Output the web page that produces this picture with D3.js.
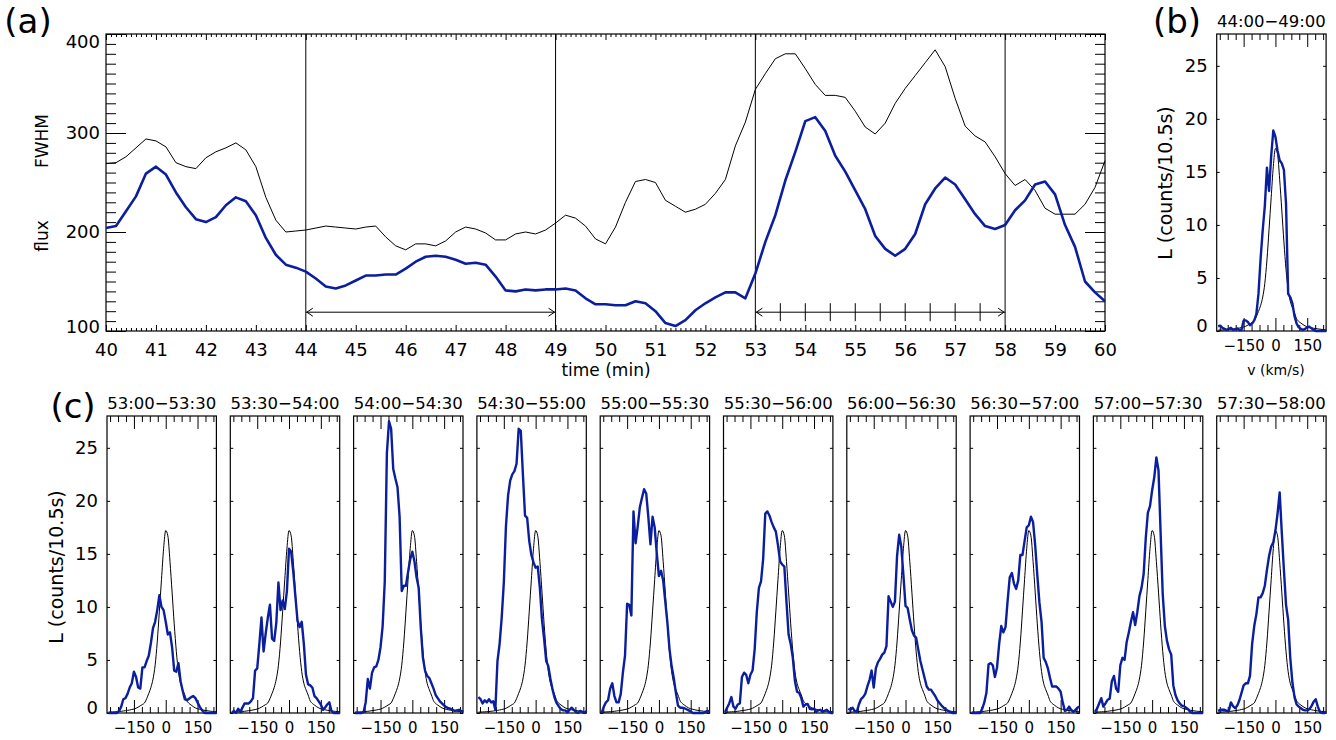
<!DOCTYPE html>
<html><head><meta charset="utf-8">
<script src="https://cdn.jsdelivr.net/npm/d3@7/dist/d3.min.js"></script>
<style>
body{margin:0;background:#fff}
svg{display:block}
text{font-family:"DejaVu Sans",sans-serif;fill:#000}
</style>
</head><body>
<svg id="chart" width="1336" height="740"></svg>
<script>
// ---------------- DATA ----------------
// Panel (a): time series, sampled every 0.2 min from 40.0 to 60.0 min
const timeStart = 40, timeStep = 0.2;
const fwhm = [
269,270,276,285,294,292,286,270,266,264,
275,281,285,290,283,266,235,212,200,201,
202,204,206,205,204,203,205,206,195,186,
182,188,188,186,191,200,205,203,199,192,
192,198,200,198,202,209,217,214,206,193,
188,205,230,251,253,250,232,226,220,223,
228,239,253,287,311,344,360,375,380,380,
365,349,338,338,336,322,306,299,310,330,
345,358,371,384,367,335,307,297,291,276,
259,247,253,242,224,218,218,218,228,245,
272];
const flux = [
204,206,221,236,259,266,258,240,225,213,
210,215,227,235,231,217,194,177,167,164,
160,153,145,143,146,151,156,156,157,157,
163,170,175,176,175,172,168,169,167,155,
141,140,142,141,142,142,143,141,133,127,
127,126,126,130,128,120,108,105,111,121,
128,134,139,139,133,158,190,217,252,281,
312,316,302,277,261,242,223,196,183,176,
183,198,228,244,255,248,233,218,206,203,
207,222,232,248,251,238,207,185,150,139,
130];
const timeTicks = [40,41,42,43,44,45,46,47,48,49,50,51,52,53,54,55,56,57,58,59,60];
const fluxTicks = [100,200,300,400];
const intervalMarks = [44,49,53,58];
const arrowLevel = 119;
const subTicks = [53.5,54,54.5,55,55.5,56,56.5,57,57.5];

// Velocity grid (km/s) for line profiles: -270 .. 240 step 10
const vStart = -270, vStep = 10;
const vTicks = [-150,0,150];
const vMinor = [-262.5,-225,-187.5,-112.5,-75,-37.5,37.5,75,112.5,187.5,225];
const LTicks = [0,5,10,15,20,25];

// reference (black) profile
const refProfile = [
0.08,0.09,0.1,0.11,0.12,0.14,0.16,0.19,0.22,0.25,
0.28,0.33,0.37,0.45,0.55,0.68,0.8,0.95,1.35,1.85,
2.4,3.2,4.5,6.7,9.6,12.6,15.5,17.2,16.7,14.3,
11.4,8.4,5.8,3.9,2.8,2.2,1.7,1.15,0.9,0.75,
0.6,0.48,0.4,0.35,0.3,0.26,0.23,0.2,0.17,0.15,
0.13,0.11];

// panel (b): 44:00-49:00
const prof4400 = [
0.45,0.5,0.3,0.2,0.1,0.2,0.3,0.1,0.15,0.25,
0.1,0.1,1.0,1.0,0.85,0.55,0.7,1.0,1.6,3.5,
6.8,9.5,11.8,15.4,13.2,16.5,18.9,18.3,17.0,16.1,
15.8,15.2,12.0,3.5,3.2,2.6,1.4,0.7,0.35,0.2,
0.1,0.2,0.35,0.4,0.25,0.1,0,0,0,0,
0,0];

// panels (c)
const prof5300 = [
0,0,0,0,0,0.2,0.6,1.3,1.4,1.8,
2.4,2.8,3.9,3.4,2.4,2.3,4.3,4.3,4.9,5.4,
6.6,8.0,8.6,9.7,11.1,10.0,9.7,8.6,7.4,7.6,
6.2,4.0,3.9,4.7,3.0,2.1,1.3,1.2,1.35,1.5,
1.6,1.4,1.0,0.6,0.3,0.05,0,0,0,0,
0,0];
const prof5330 = [
0,0.2,0,0.4,0.1,0.5,0.9,0.9,0.9,1.1,
1.4,4.0,4.2,6.5,9.0,5.8,7.5,9.0,10.2,7.0,
6.8,8.5,12.3,9.7,10.6,9.8,11.5,15.5,15.2,13.3,
11.0,8.7,8.1,8.6,6.5,3.6,2.7,2.6,2.4,1.6,
1.4,1.1,0.8,0.3,0.5,0.8,1.0,0.2,0,0,
0,0];
const prof5400 = [
0,0,0,0,0.1,1.0,3.2,2.3,3.8,4.3,
4.4,5.0,6.2,8.2,12.4,24.5,27.5,26.8,23.0,22.1,
21.3,18.5,11.5,12.0,12.0,13.3,14.5,15.2,14.3,12.8,
11.8,8.0,5.2,4.0,3.5,3.3,2.8,2.3,1.7,1.4,
1.1,0.9,0.7,0.55,0.45,0.4,0.3,0.2,0.25,0.3,
0.2,0.15];
const prof5430 = [
1.5,1.3,0.9,1.2,1.0,1.3,1.0,1.1,0.3,4.9,
6.5,9.0,12.3,17.6,20.5,21.9,22.5,22.8,23.5,26.8,
26.6,22.5,18.6,18.4,16.2,14.9,14.2,13.7,13.8,11.8,
8.8,7.0,4.9,4.4,3.2,2.2,1.4,0.9,0.6,0.35,
0.25,0.25,0.05,0.3,0.5,0.3,0.1,0,0.2,0.1,
0,0.2];
const prof5500 = [
0,0.6,1.0,1.2,2.3,2.8,1.6,1.0,1.0,1.8,
3.8,5.4,10.3,10.2,9.2,19.0,16.0,17.6,19.4,20.3,
21.1,20.7,18.5,15.9,18.5,17.5,15.0,12.9,13.4,12.5,
10.5,8.5,6.0,4.4,3.3,1.9,0.7,0.5,0.5,0.45,
0.35,0.25,0.15,0,0,0,0,0,0,0.1,
0.2,0.15];
const prof5530 = [
0.1,0.5,0.9,1.5,0.6,0.4,0.8,0.9,3.4,3.8,
3.6,2.8,3.6,4.0,6.0,9.5,11.8,12.4,14.5,18.8,
19.0,18.6,18.0,17.5,17.1,15.8,14.3,14.0,13.8,10.5,
7.4,6.5,5.2,3.0,2.0,1.9,1.4,0.6,0.8,0.85,
0.4,0.35,0.4,0.1,0.25,0.3,0.1,0.2,0.3,0.1,
0,0];
const prof5600 = [
0.4,0.3,0.5,0.2,0.1,0.8,1.3,1.5,1.8,2.5,
3.1,4.0,2.4,4.2,4.8,5.1,5.5,5.7,6.3,11.0,
10.5,10.0,10.5,14.8,16.8,15.7,13.0,10.1,9.9,8.8,
7.8,7.3,7.1,6.0,4.9,4.1,3.3,2.5,2.2,2.2,
1.9,1.6,1.2,0.95,0.7,0.5,0.35,0.2,0.1,0,
0,0];
const prof5630 = [
0,0,0,0,0,0.4,1.0,1.9,4.6,4.7,
4.5,3.4,4.3,6.5,8.2,7.6,8.1,10.6,12.8,13.2,
12.2,11.7,12.5,14.9,14.9,16.2,17.5,17.7,18.5,18.0,
15.8,13.0,10.4,8.6,5.2,4.8,4.2,3.3,2.5,2.5,
2.5,2.3,2.0,1.0,0.2,0.3,0.6,0.3,0.1,0.3,
0.5,0.6];
const prof5700 = [
0.1,0.4,0.9,1.4,0.6,0.9,1.25,1.35,3.0,3.5,
2.3,2.0,4.5,5.2,5.0,6.7,7.6,8.6,9.5,8.3,
9.5,11.0,11.8,13.1,16.5,18.9,19.5,21.0,22.2,24.1,
22.9,17.0,11.2,8.2,6.8,6.0,5.5,2.6,1.7,1.2,
0.9,0.7,0.65,0.5,0.35,0.1,0,0,0,0,
0,0];
const prof5730 = [
0.2,0.3,0.3,0.3,0.2,0.2,1.0,0.65,0.45,0.7,
1.2,1.9,2.6,2.8,2.8,3.5,6.5,8.2,9.3,10.9,
10.9,11.3,12.0,13.5,14.8,15.7,16.1,17.2,18.8,20.8,
17.0,13.5,10.2,8.8,5.2,2.9,1.5,0.8,0.6,0.45,
0.3,0.25,0.25,0.35,0.65,1.05,1.3,0.6,0.1,0,
0,0.05];
const panelTitles = ["53:00−53:30","53:30−54:00","54:00−54:30","54:30−55:00","55:00−55:30",
                     "55:30−56:00","56:00−56:30","56:30−57:00","57:00−57:30","57:30−58:00"];
const panelProfiles = [prof5300,prof5330,prof5400,prof5430,prof5500,prof5530,prof5600,prof5630,prof5700,prof5730];

// ---------------- DRAWING ----------------
const BLUE = "#0b1f9e";
const svg = d3.select("#chart");
const times = fwhm.map((_, i) => timeStart + i * timeStep);
const vels = refProfile.map((_, i) => vStart + i * vStep);

function styleAxis(g) {
  g.attr("font-family", null).attr("font-size", null);
  g.select(".domain").remove();
  g.selectAll(".tick line").attr("stroke", "#000").attr("stroke-width", 1);
  g.selectAll(".tick text").attr("fill", "#000");
}
const fmtV = d => d < 0 ? "−" + Math.abs(d) : String(d);

// ---- Panel (a) ----
const ax = d3.scaleLinear().domain([40, 60]).range([106, 1105]);
const ay = d3.scaleLinear().domain([100, 400]).range([331, 34]);
const gA = svg.append("g");
const [aL, aR] = ax.range(), aB = ay.range()[0], aT = ay.range()[1];

const minorT = d3.range(400, 601).map(d => d / 10).filter(d => Math.abs(d - Math.round(d)) > 1e-6);
const minorF = d3.range(100, 401, 10).filter(d => d % 100 !== 0);

gA.append("g").attr("transform", `translate(0,${aB})`)
  .call(d3.axisBottom(ax).tickValues(timeTicks).tickSizeInner(-6).tickSizeOuter(0).tickPadding(12).tickFormat(d3.format("d")))
  .call(styleAxis).selectAll("text").style("font-size", "18px");
gA.append("g").attr("transform", `translate(0,${aB})`)
  .call(d3.axisBottom(ax).tickValues(minorT).tickSizeInner(-3).tickSizeOuter(0).tickFormat(""))
  .call(styleAxis);
gA.append("g").attr("transform", `translate(0,${aT})`)
  .call(d3.axisTop(ax).tickValues(timeTicks).tickSizeInner(-6).tickSizeOuter(0).tickFormat(""))
  .call(styleAxis);
gA.append("g").attr("transform", `translate(0,${aT})`)
  .call(d3.axisTop(ax).tickValues(minorT).tickSizeInner(-3).tickSizeOuter(0).tickFormat(""))
  .call(styleAxis);
const yl = gA.append("g").attr("transform", `translate(${aL},0)`)
  .call(d3.axisLeft(ay).tickValues(fluxTicks).tickSizeInner(-20).tickSizeOuter(0).tickPadding(6).tickFormat(d3.format("d")))
  .call(styleAxis);
yl.selectAll("text").style("font-size", "18px")
  .attr("transform", d => d === 400 ? "translate(0,8)" : d === 100 ? "translate(0,-4)" : null);
gA.append("g").attr("transform", `translate(${aL},0)`)
  .call(d3.axisLeft(ay).tickValues(minorF).tickSizeInner(-10).tickSizeOuter(0).tickFormat(""))
  .call(styleAxis);
gA.append("g").attr("transform", `translate(${aR},0)`)
  .call(d3.axisRight(ay).tickValues(fluxTicks).tickSizeInner(-20).tickSizeOuter(0).tickFormat(""))
  .call(styleAxis);
gA.append("g").attr("transform", `translate(${aR},0)`)
  .call(d3.axisRight(ay).tickValues(minorF).tickSizeInner(-10).tickSizeOuter(0).tickFormat(""))
  .call(styleAxis);
gA.append("rect").attr("x", aL).attr("y", aT).attr("width", aR - aL).attr("height", aB - aT)
  .attr("fill", "none").attr("stroke", "#000").attr("stroke-width", 1.2);

// interval lines
gA.selectAll("line.vmark").data(intervalMarks).join("line").attr("class", "vmark")
  .attr("x1", d => ax(d)).attr("x2", d => ax(d)).attr("y1", aT).attr("y2", aB)
  .attr("stroke", "#000").attr("stroke-width", 1);

function arrow(g, xa, xb, y) {
  const s = g.append("g").attr("stroke", "#000").attr("stroke-width", 1).attr("fill", "none");
  s.append("line").attr("x1", xa).attr("x2", xb).attr("y1", y).attr("y2", y);
  s.append("path").attr("d", `M${xa + 7},${y - 4}L${xa + 1},${y}L${xa + 7},${y + 4}`);
  s.append("path").attr("d", `M${xb - 7},${y - 4}L${xb - 1},${y}L${xb - 7},${y + 4}`);
  return s;
}
arrow(gA, ax(intervalMarks[0]), ax(intervalMarks[1]), ay(arrowLevel));
const a2 = arrow(gA, ax(intervalMarks[2]), ax(intervalMarks[3]), ay(arrowLevel));
a2.selectAll("line.sub").data(subTicks).join("line").attr("class", "sub")
  .attr("x1", d => ax(d)).attr("x2", d => ax(d))
  .attr("y1", ay(arrowLevel) - 9).attr("y2", ay(arrowLevel) + 9);

const lineA = arr => d3.line().x((d, i) => ax(times[i])).y(d => ay(d))(arr);
gA.append("path").attr("d", lineA(fwhm)).attr("fill", "none").attr("stroke", "#000").attr("stroke-width", 1);
gA.append("path").attr("d", lineA(flux)).attr("fill", "none").attr("stroke", BLUE).attr("stroke-width", 2.6)
  .attr("stroke-linejoin", "round");

svg.append("text").attr("x", 28).attr("y", 33).attr("text-anchor", "middle").style("font-size", "34px").text("(a)");
svg.append("text").attr("transform", "translate(48,141) rotate(-90)").attr("text-anchor", "middle").style("font-size", "17px").text("FWHM");
svg.append("text").attr("transform", "translate(48,236) rotate(-90)").attr("text-anchor", "middle").style("font-size", "17px").text("flux");
svg.append("text").attr("x", 606).attr("y", 376).attr("text-anchor", "middle").style("font-size", "17px").text("time (min)");

// ---- Spectral panels ----
const vDomain = [-277, 239];
const LDomain = [0, 28];
function specPanel(left, top, bottom, title, prof, yLabels) {
  const x = d3.scaleLinear().domain(vDomain).range([left, left + 109.4]);
  const y = d3.scaleLinear().domain(LDomain).range([bottom, top]);
  const g = svg.append("g");
  g.append("g").attr("transform", `translate(0,${bottom})`)
    .call(d3.axisBottom(x).tickValues(vTicks).tickSizeInner(-13).tickSizeOuter(0).tickPadding(9).tickFormat(fmtV))
    .call(styleAxis).selectAll("text").style("font-size", "15px");
  g.append("g").attr("transform", `translate(0,${bottom})`)
    .call(d3.axisBottom(x).tickValues(vMinor).tickSizeInner(-6).tickSizeOuter(0).tickFormat(""))
    .call(styleAxis);
  g.append("g").attr("transform", `translate(0,${top})`)
    .call(d3.axisTop(x).tickValues(vTicks).tickSizeInner(-13).tickSizeOuter(0).tickFormat(""))
    .call(styleAxis);
  g.append("g").attr("transform", `translate(0,${top})`)
    .call(d3.axisTop(x).tickValues(vMinor).tickSizeInner(-6).tickSizeOuter(0).tickFormat(""))
    .call(styleAxis);
  const ly = g.append("g").attr("transform", `translate(${left},0)`)
    .call(d3.axisLeft(y).tickValues(LTicks).tickSizeInner(-3).tickSizeOuter(0).tickPadding(9)
      .tickFormat(yLabels ? d3.format("d") : ""))
    .call(styleAxis);
  ly.selectAll("text").style("font-size", "18px").attr("transform", d => d === 0 ? "translate(0,-5)" : null);
  g.append("g").attr("transform", `translate(${left + 109.4},0)`)
    .call(d3.axisRight(y).tickValues(LTicks).tickSizeInner(-3).tickSizeOuter(0).tickFormat(""))
    .call(styleAxis);
  g.append("rect").attr("x", left).attr("y", top).attr("width", 109.4).attr("height", bottom - top)
    .attr("fill", "none").attr("stroke", "#000").attr("stroke-width", 1.2);
  g.append("path").attr("d", d3.line().curve(d3.curveMonotoneX).x((d, i) => x(vels[i])).y(d => y(d))(refProfile))
    .attr("fill", "none").attr("stroke", "#000").attr("stroke-width", 1);
  g.append("path").attr("d", d3.line().x((d, i) => x(vels[i])).y(d => y(d))(prof))
    .attr("fill", "none").attr("stroke", BLUE).attr("stroke-width", 2.4).attr("stroke-linejoin", "round");
  g.append("text").attr("x", left + 54.7).attr("y", top - 7).attr("text-anchor", "middle")
    .style("font-size", "16.5px").text(title);
  return g;
}

// (b)
specPanel(1216.7, 34, 331, "44:00−49:00", prof4400, true);
svg.append("text").attr("x", 1177).attr("y", 33).attr("text-anchor", "middle").style("font-size", "34px").text("(b)");
svg.append("text").attr("transform", "translate(1172,183) rotate(-90)").attr("text-anchor", "middle").style("font-size", "19px").text("L (counts/10.5s)");
svg.append("text").attr("x", 1276).attr("y", 375).attr("text-anchor", "middle").style("font-size", "14px").text("v (km/s)");

// (c)
panelProfiles.forEach((p, i) => specPanel(107 + i * 123.3, 416, 713, panelTitles[i], p, i === 0));
svg.append("text").attr("x", 73).attr("y", 418).attr("text-anchor", "middle").style("font-size", "34px").text("(c)");
svg.append("text").attr("transform", "translate(63,567) rotate(-90)").attr("text-anchor", "middle").style("font-size", "19px").text("L (counts/10.5s)");
</script>
</body></html>
